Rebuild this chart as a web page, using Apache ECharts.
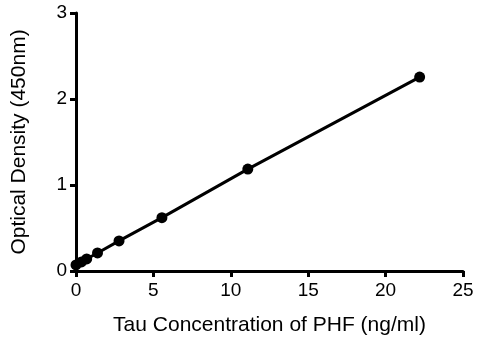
<!DOCTYPE html>
<html><head><meta charset="utf-8">
<script src="https://cdn.jsdelivr.net/npm/echarts@6/dist/echarts.min.js"></script>
<style>html,body{margin:0;padding:0;background:#fff}#c{width:477px;height:341px}</style>
</head><body><div id="c"></div>
<script>
const concentrations = [0, 0.35, 0.69, 1.39, 2.78, 5.55, 11.1, 22.2];
const opticalDensity = [0.07, 0.105, 0.14, 0.21, 0.35, 0.62, 1.185, 2.255];
const xTicks = [0, 5, 10, 15, 20, 25];
const yTicks = [0, 1, 2, 3];

const chart = echarts.init(document.getElementById('c'), null, {renderer: 'canvas'});
const font = 'Liberation Sans, Arial, sans-serif';
const axisLine = {show: true, onZero: false, lineStyle: {color: '#000', width: 3}};
const axisTick = {show: true, length: 6, lineStyle: {color: '#000', width: 3}};
chart.setOption({
  animation: false,
  backgroundColor: '#fff',
  grid: {left: 76, right: 14, top: 13, bottom: 70},
  xAxis: {
    type: 'value', min: xTicks[0], max: xTicks[xTicks.length - 1], interval: 5,
    name: 'Tau Concentration of PHF (ng/ml)', nameLocation: 'middle', nameGap: 44,
    nameTextStyle: {color: '#000', fontSize: 21, fontFamily: font},
    axisLine: axisLine, axisTick: axisTick, splitLine: {show: false},
    axisLabel: {color: '#000', fontSize: 19, fontFamily: font, margin: 10}
  },
  yAxis: {
    type: 'value', min: yTicks[0], max: yTicks[yTicks.length - 1], interval: 1,
    name: 'Optical Density (450nm)', nameLocation: 'middle', nameGap: 46,
    nameTextStyle: {color: '#000', fontSize: 21, fontFamily: font},
    axisLine: axisLine, axisTick: axisTick, splitLine: {show: false},
    axisLabel: {color: '#000', fontSize: 19, fontFamily: font, margin: 9}
  },
  series: [{
    type: 'line',
    data: concentrations.map((x, i) => [x, opticalDensity[i]]),
    symbol: 'circle', symbolSize: 11,
    lineStyle: {color: '#000', width: 3},
    itemStyle: {color: '#000'}
  }]
});
</script></body></html>
